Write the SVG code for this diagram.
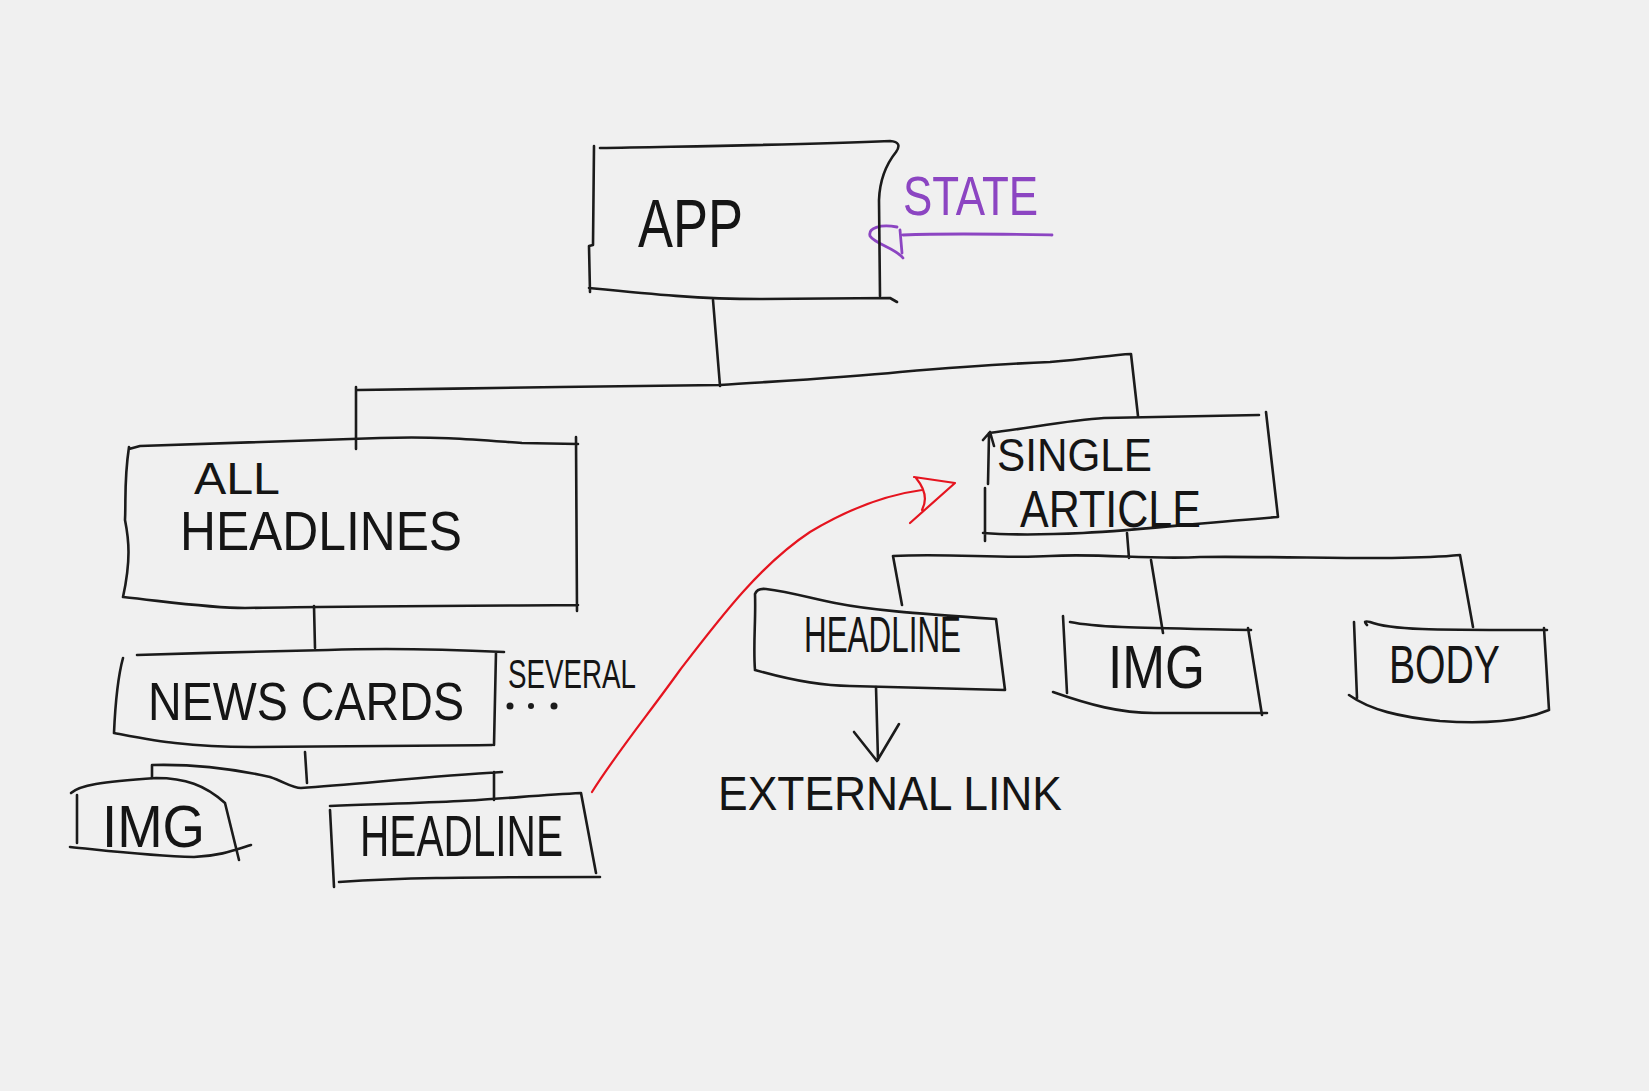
<svg xmlns="http://www.w3.org/2000/svg" width="1649" height="1091" viewBox="0 0 1649 1091">
<style>
.ink{fill:none;stroke:#1b1b1b;stroke-width:2.6;stroke-linecap:round;stroke-linejoin:round}
.red{fill:none;stroke:#e5141f;stroke-width:2.2;stroke-linecap:round;stroke-linejoin:round}
.pur{fill:none;stroke:#8c45c2;stroke-width:2.8;stroke-linecap:round;stroke-linejoin:round}
.t{font-family:"Liberation Sans",Arial,sans-serif;fill:#151515}
.tp{font-family:"Liberation Sans",Arial,sans-serif;fill:#8c45c2}
</style>
<rect x="0" y="0" width="1649" height="1091" fill="#f0f0f0"/>

<g id="connectors">
  <path class="ink" d="M713,300 L720,386"/>
  <path class="ink" d="M356,449 L356,387 M358,390 C420,389 500,388 560,387 C620,386 680,386 720,385 C780,381 840,378 900,372 C960,367 1000,364 1050,362 C1090,359 1110,355 1131,354 L1138,416"/>
  <path class="ink" d="M314,606 L315,648"/>
  <path class="ink" d="M305,752 L307,783 M152,778 L152,765 C190,764 230,768 270,777 C285,782 292,788 301,788 C360,784 430,776 502,772 M494,772 L494,800"/>
  <path class="ink" d="M1127,533 L1129,558 M902,605 L893,556 C950,553 1000,559 1050,556 C1100,553 1150,560 1200,557 C1300,556 1400,561 1460,555 L1473,627 M1151,560 L1163,633"/>
  <path class="ink" d="M876,687 L878,760 M854,732 L877,761 L899,724"/>
  <path class="red" d="M592,792 C615,755 650,712 680,670 C720,618 760,565 810,532 C850,508 885,495 922,490 M914,477 L955,483 L910,523 M916,478 Q930,495 922,510"/>
  <path class="pur" d="M1052,235 C1000,234 950,233 903,235 M897,227 C880,224 868,228 870,236 C875,244 895,248 903,258 M900,230 L902,253"/>
</g>

<g id="node-app">
  <path class="ink" d="M600,148 C700,146 800,145 890,141 Q903,142 896,152 Q880,172 879,200 L880,296 M589,288 C650,294 700,299 760,299 L890,298 L897,302 M594,146 L593,245 L589,246 L590,292"/>
  <text class="t" x="638" y="247" font-size="68" textLength="105" lengthAdjust="spacingAndGlyphs">APP</text>
</g>

<g id="note-state">
  <text class="tp" x="903" y="215" font-size="55" textLength="135" lengthAdjust="spacingAndGlyphs">STATE</text>
</g>

<g id="node-all-headlines">
  <path class="ink" d="M129,449 L140,446 C220,443 300,440 380,438 C440,436 480,440 522,443 L578,444 M576,437 L577,611 M123,597 C170,602 210,608 245,608 C350,606 450,606 578,605 M129,447 C124,480 126,500 125,520 C129,540 131,560 123,597"/>
  <text class="t" x="194" y="494" font-size="45" textLength="86" lengthAdjust="spacingAndGlyphs">ALL</text>
  <text class="t" x="180" y="550" font-size="56" textLength="282" lengthAdjust="spacingAndGlyphs">HEADLINES</text>
</g>

<g id="node-news-cards">
  <path class="ink" d="M137,655 C200,653 270,651 328,650 C380,648 440,649 504,652 M496,652 L494,745 M123,658 C117,680 115,710 114,733 M114,733 C140,738 160,742 175,743 C210,747 240,747 251,747 C350,746 420,746 492,745"/>
  <text class="t" x="148" y="720" font-size="54" textLength="316" lengthAdjust="spacingAndGlyphs">NEWS CARDS</text>
</g>

<g id="note-several">
  <text class="t" x="508" y="688" font-size="40" textLength="128" lengthAdjust="spacingAndGlyphs">SEVERAL</text>
  <circle cx="510" cy="706" r="3.5" fill="#1b1b1b"/>
  <circle cx="531" cy="706" r="3" fill="#1b1b1b"/>
  <circle cx="554" cy="706" r="3.5" fill="#1b1b1b"/>
</g>

<g id="node-img-left">
  <path class="ink" d="M71,793 C80,785 100,782 156,778 C185,778 205,785 225,803 L239,860 M77,795 L77,843 M70,847 C110,851 150,856 194,857 C220,856 235,850 251,845"/>
  <text class="t" x="102" y="847" font-size="60" textLength="103" lengthAdjust="spacingAndGlyphs">IMG</text>
</g>

<g id="node-headline-left">
  <path class="ink" d="M330,806 C380,804 420,803 460,801 C500,799 540,795 581,793 L596,873 M330,810 L334,887 M339,882 C400,878 450,877 600,877"/>
  <text class="t" x="360" y="856" font-size="58" textLength="203" lengthAdjust="spacingAndGlyphs">HEADLINE</text>
</g>

<g id="node-single-article">
  <path class="ink" d="M989,433 C1030,428 1070,420 1104,418 L1259,415 M1266,412 L1278,517 M1278,517 C1200,523 1140,530 1083,533 C1040,535 1010,535 983,533 M989,435 L988,484 M985,488 L985,541 M983,440 L990,432 L994,446"/>
  <text class="t" x="997" y="471" font-size="46" textLength="155" lengthAdjust="spacingAndGlyphs">SINGLE</text>
  <text class="t" x="1020" y="527" font-size="51" textLength="181" lengthAdjust="spacingAndGlyphs">ARTICLE</text>
</g>

<g id="node-headline-right">
  <path class="ink" d="M755,670 C753,645 756,620 755,594 Q757,588 766,589 C790,592 810,598 835,603 C870,610 910,613 996,619 L1005,690 M755,670 C790,680 820,686 850,686 L1005,690"/>
  <text class="t" x="804" y="652" font-size="50" textLength="157" lengthAdjust="spacingAndGlyphs">HEADLINE</text>
</g>

<g id="node-external-link">
  <text class="t" x="718" y="810" font-size="48" textLength="344" lengthAdjust="spacingAndGlyphs">EXTERNAL LINK</text>
</g>

<g id="node-img-right">
  <path class="ink" d="M1070,622 C1100,628 1150,628 1251,630 M1063,616 L1067,693 M1053,692 C1090,705 1120,713 1154,713 L1267,713 M1248,628 L1262,715"/>
  <text class="t" x="1108" y="688" font-size="62" textLength="97" lengthAdjust="spacingAndGlyphs">IMG</text>
</g>

<g id="node-body">
  <path class="ink" d="M1367,625 Q1362,620 1370,622 C1390,630 1430,630 1547,630 M1354,622 L1357,698 M1349,695 C1370,710 1400,717 1440,721 C1480,724 1520,722 1549,710 M1544,628 L1549,710"/>
  <text class="t" x="1389" y="683" font-size="54" textLength="111" lengthAdjust="spacingAndGlyphs">BODY</text>
</g>
</svg>
